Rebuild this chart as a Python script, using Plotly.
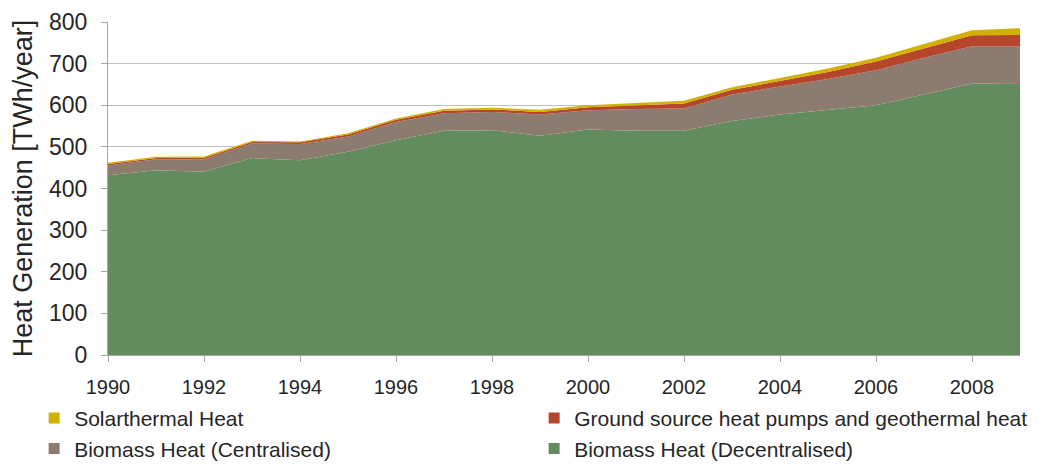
import plotly.graph_objects as go

years = list(range(1990, 2010))
biomass_decentral = [432, 444, 440, 473, 468, 488, 516, 539, 540, 527, 542, 539, 539, 562, 578, 589, 600, 626, 652, 651]
biomass_central = [23, 26, 30, 35, 39, 37, 44, 42, 44, 51, 46, 52, 53, 64, 67, 74, 84, 88, 90, 91]
ground_source = [4, 3, 4, 4, 4, 5, 5, 6, 6, 6, 7, 9, 12, 11, 13, 17, 21, 23, 26, 27]
solarthermal = [3, 3, 3, 3, 2, 3, 3, 4, 4, 5, 5, 6, 7, 6, 8, 8, 9, 10, 12, 16]
x_ticks = list(range(1990, 2009, 2))
y_ticks = list(range(0, 801, 100))

series = [
    ("Biomass Heat (Decentralised)", biomass_decentral, "#638C5E"),
    ("Biomass Heat (Centralised)", biomass_central, "#8C7C70"),
    ("Ground source heat pumps and geothermal heat", ground_source, "#B5452B"),
    ("Solarthermal Heat", solarthermal, "#D2B000"),
]

fig = go.Figure()
for name, vals, col in series:
    fig.add_trace(go.Scatter(
        x=years, y=vals, name=name, stackgroup="one", mode="lines",
        line=dict(width=0, color=col), fillcolor=col, showlegend=False,
    ))

legend_order = [series[3], series[2], series[1], series[0]]
for name, vals, col in legend_order:
    fig.add_trace(go.Scatter(
        x=[None], y=[None], name=name, mode="markers",
        marker=dict(symbol="square", size=11, color=col), showlegend=True,
    ))

font_family = "Arial, Liberation Sans, sans-serif"
fig.update_layout(
    width=1042, height=456,
    margin=dict(l=100, r=30, t=14, b=109, autoexpand=False),
    paper_bgcolor="white", plot_bgcolor="white",
    font=dict(family=font_family, size=20, color="#262626"),
    showlegend=True,
    legend=dict(
        orientation="h", x=-0.081, xref="paper", xanchor="left",
        y=-0.129, yref="paper", yanchor="top",
        entrywidth=455, entrywidthmode="pixels",
        traceorder="normal", itemwidth=30,
        font=dict(size=21, family=font_family, color="#262626"),
        tracegroupgap=0, bgcolor="rgba(0,0,0,0)",
    ),
    xaxis=dict(
        range=[1990, 2009], tickmode="array", tickvals=x_ticks,
        ticktext=[str(v) for v in x_ticks],
        showgrid=False, zeroline=False,
        showline=True, linecolor="#A6A6A6", linewidth=1,
        ticks="outside", ticklen=6, tickcolor="#A6A6A6",
        tickfont=dict(size=20), ticklabelstandoff=8,
    ),
    yaxis=dict(
        range=[0, 800], tickmode="array", tickvals=y_ticks,
        showgrid=True, gridcolor="#BFBFBF", gridwidth=1, zeroline=False,
        showline=True, linecolor="#A6A6A6", linewidth=1,
        ticks="outside", ticklen=6, tickcolor="#A6A6A6",
        tickfont=dict(size=23), ticklabelstandoff=9,
        title=dict(text="Heat Generation [TWh/year]", font=dict(size=27), standoff=32),
    ),
)

fig.write_html("out.html")
